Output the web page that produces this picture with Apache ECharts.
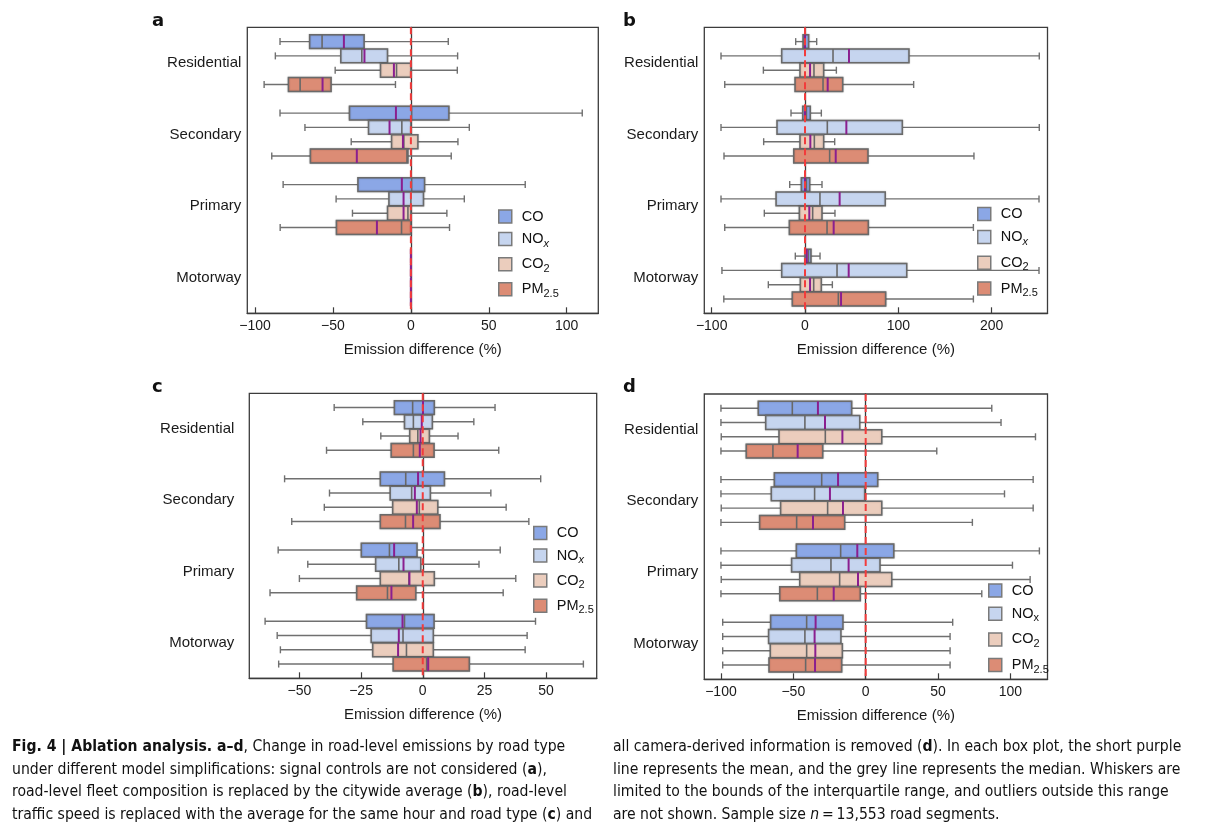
<!DOCTYPE html>
<html>
<head>
<meta charset="utf-8">
<script src="https://cdn.jsdelivr.net/npm/echarts@6/dist/echarts.min.js"></script>
<style>
html,body{margin:0;padding:0;background:#fff;width:1225px;height:829px;overflow:hidden;}
#chart{position:absolute;left:0;top:0;width:1225px;height:829px;}
.cap{position:absolute;font-family:"Liberation Sans Narrow","DejaVu Sans Condensed",sans-serif;font-size:15.6px;line-height:22.6px;color:#111;white-space:nowrap;}
</style>
</head>
<body>
<div id="chart"></div>
<div class="cap" style="left:12px;top:735px">
<b>Fig. 4 | Ablation analysis. a–d</b>, Change in road-level emissions by road type<br>
under different model simplifications: signal controls are not considered (<b>a</b>),<br>
road-level fleet composition is replaced by the citywide average (<b>b</b>), road-level<br>
traffic speed is replaced with the average for the same hour and road type (<b>c</b>) and
</div>
<div class="cap" style="left:613px;top:735px">
all camera-derived information is removed (<b>d</b>). In each box plot, the short purple<br>
line represents the mean, and the grey line represents the median. Whiskers are<br>
limited to the bounds of the interquartile range, and outliers outside this range<br>
are not shown. Sample size <i>n</i>&#8201;=&#8201;13,553 road segments.
</div>
<script>
// ---------------- DATA ----------------
const roadTypes = ['Residential', 'Secondary', 'Primary', 'Motorway'];
const pollutants = ['CO', 'NOx', 'CO2', 'PM2.5'];
const referenceValue = 0;
// each row (one road type): [lower whisker, Q1, median, Q3, upper whisker, mean]
// panel a: signal controls not considered
const a_CO   = [[-84, -65, -57, -30, 24, -43], [-84, -39.4, 0.5, 24.4, 110, -9.6], [-82, -34, 0.5, 8.8, 73.4, -5.8], [0, 0, 0, 0, 0, 0]];
const a_NOx  = [[-87, -45, -31.5, -15, 30, -29.8], [-68, -27.2, -5.8, 0, 37.5, -13.7], [-48, -14.1, 0, 8.1, 34.3, -4.7], [0, 0, 0, 0, 0, 0]];
const a_CO2  = [[-48.6, -19.5, -9.2, 0, 29.8, -10.9], [-38.3, -12.4, -4.5, 4.5, 30.2, -5.1], [-37.5, -15, -1.9, 0, 23.1, -4.7], [0, 0, 0, 0, 0, 0]];
const a_PM25 = [[-94.2, -78.6, -71.1, -51.2, -9.9, -56.7], [-89.3, -64.5, -2.5, -1.9, 25.9, -34.7], [-83.9, -47.8, -6, 0, 24.8, -21.8], [0, 0, 0, 0, 0, 0]];
// panel b: fleet composition replaced by citywide average
const b_CO   = [[-10, -2.1, -0.7, 3.9, 12.5, 0], [-15, -2.5, 1.5, 5.7, 17.5, 0], [-16.4, -3.9, 1.5, 5, 18.2, 0], [-10.4, 0, 3.5, 6.4, 16.1, 1.8]];
const b_NOx  = [[-90, -25, 30, 111.4, 251, 47.1], [-90, -30, 23.9, 104.3, 251, 44.3], [-90, -31, 16, 86, 250.7, 37.1], [-89, -25, 34.3, 109, 250.7, 46.8]];
const b_CO2  = [[-44.6, -5.4, 9.6, 20, 33.6, 5.4], [-44.3, -5.4, 10, 20, 31.8, 5.7], [-43.6, -6, 8.2, 18.2, 32.1, 4.6], [-39.3, -5, 9.3, 17.5, 29.3, 5.4]];
const b_PM25 = [[-86, -10.7, 19.3, 40.4, 116.4, 24.3], [-86.8, -12.1, 26.4, 67.5, 181, 32.9], [-86, -16.8, 23.6, 67.9, 180.4, 30.7], [-87, -13.6, 35.7, 86.4, 180.4, 38.6]];
// panel c: traffic speed replaced by hour/road-type average
const c_CO   = [[-35.9, -11.5, -4.1, 4.7, 29.3, 0.1], [-56, -17.2, -6.9, 8.8, 47.8, -1.9], [-58.6, -24.9, -13.5, -2.3, 31.4, -11.6], [-63.9, -22.8, -7.4, 4.6, 45.7, -8.2]];
const c_NOx  = [[-24.3, -7.4, -3.8, 3.9, 20.7, -0.4], [-37.8, -13.2, -4.5, 3.1, 27.6, -3.2], [-46.6, -19.1, -9.7, -0.8, 22.8, -7.8], [-59, -20.9, -8, 4.3, 42.3, -9.7]];
const c_CO2  = [[-17, -5.3, -2, 2.7, 14.3, -0.9], [-39.9, -12.2, -1.4, 6.1, 33.8, -2.4], [-50, -17.2, -5.6, 4.7, 37.7, -5.4], [-57.7, -20.3, -6.6, 4.3, 41.5, -10]];
const c_PM25 = [[-39, -12.8, -3.8, 4.6, 30.8, -1.2], [-53.1, -17.2, -7, 7, 43, -3.9], [-61.9, -26.8, -14.3, -2.8, 32.6, -12.7], [-58.4, -12, 1.6, 18.9, 65.1, 2.2]];
// panel d: all camera-derived information removed
const d_CO   = [[-100, -74.2, -50.7, -9.7, 87.1, -33], [-100, -63.1, -30.4, 8.3, 115.7, -19.1], [-100, -47.9, -17.3, 19.4, 120, -5.8], [-98.8, -65.7, -40.8, -15.7, 60.1, -34.6]];
const d_NOx  = [[-100, -69.1, -42, -4.1, 93.5, -28.1], [-100, -65.2, -35.3, -0.7, 95.9, -24.7], [-100, -51.2, -24, 9.9, 101.4, -11.8], [-98.8, -67.1, -42, -17.1, 58.3, -35.3]];
const d_CO2  = [[-99.8, -59.9, -27.9, 11.1, 117.3, -16.1], [-99.8, -58.8, -26.3, 11.1, 115.7, -15.7], [-99.8, -45.6, -18, 18, 113.6, -5.3], [-98.8, -65.9, -40.8, -16.1, 58.3, -34.8]];
const d_PM25 = [[-100, -82.5, -64.1, -29.7, 49.1, -47], [-100, -73.3, -47.7, -14.5, 73.7, -36.4], [-100, -59.4, -33.4, -3.7, 80.2, -22.1], [-98.8, -66.8, -41.5, -16.6, 58.3, -35]];
// x-axis tick labels
const a_ticks = [-100, -50, 0, 50, 100];
const b_ticks = [-100, 0, 100, 200];
const c_ticks = [-50, -25, 0, 25, 50];
const d_ticks = [-100, -50, 0, 50, 100];

// ---------------- STYLE / LAYOUT ----------------
const fills = ['#8ba7e6', '#c6d5ef', '#ebcdbd', '#dc8c75'];
const FONT = '"Liberation Sans", Arial, sans-serif';
const panels = [
  { key: 'a', data: [a_CO, a_NOx, a_CO2, a_PM25], ticks: a_ticks, range: [-105, 120.3],
    grid: { left: 247.3, top: 27.3, width: 351, height: 286 }, labelMargin: 6, yTicks: false,
    legend: { left: 498, top: 209, gap: 7.6 }, italicX: true, tag: [152, 12] },
  { key: 'b', data: [b_CO, b_NOx, b_CO2, b_PM25], ticks: b_ticks, range: [-107.9, 259.8],
    grid: { left: 704.3, top: 27.3, width: 343.2, height: 286 }, labelMargin: 6, yTicks: true,
    legend: { left: 977, top: 206.4, gap: 8.2 }, italicX: true, tag: [623, 12] },
  { key: 'c', data: [c_CO, c_NOx, c_CO2, c_PM25], ticks: c_ticks, range: [-70.3, 70.5],
    grid: { left: 249.3, top: 393.3, width: 347.4, height: 285 }, labelMargin: 15, yTicks: false,
    legend: { left: 533, top: 525.4, gap: 7.6 }, italicX: true, tag: [152, 378] },
  { key: 'd', data: [d_CO, d_NOx, d_CO2, d_PM25], ticks: d_ticks, range: [-111.5, 125.6],
    grid: { left: 704.3, top: 394, width: 343.2, height: 285.3 }, labelMargin: 6, yTicks: false,
    legend: { left: 988, top: 583, gap: 8.2 }, italicX: false, tag: [623, 378] }
];

function boxRenderer(k) {
  return function (params, api) {
    const cat = api.value(0);
    const cs = params.coordSys;
    const band = cs.height / roadTypes.length;
    const yc = api.coord([0, cat])[1] + (k - 1.5) * band * 0.2;
    const h = band * 0.2 - 0.4;
    const X = v => api.coord([v, cat])[0];
    const wl = X(api.value(1)), q1 = X(api.value(2)), md = X(api.value(3)),
          q3 = X(api.value(4)), wr = X(api.value(5)), mn = X(api.value(6));
    const wStyle = { stroke: '#707070', lineWidth: 1.4, fill: null };
    const cap = 3.5;
    return {
      type: 'group',
      children: [
        { type: 'line', shape: { x1: wl, y1: yc, x2: wr, y2: yc }, style: wStyle },
        { type: 'line', shape: { x1: wl, y1: yc - cap, x2: wl, y2: yc + cap }, style: wStyle },
        { type: 'line', shape: { x1: wr, y1: yc - cap, x2: wr, y2: yc + cap }, style: wStyle },
        { type: 'rect', shape: { x: q1, y: yc - h / 2, width: q3 - q1, height: h },
          style: { fill: fills[k], stroke: '#6a6a6a', lineWidth: 1.5, shadowBlur: 1.5, shadowColor: 'rgba(0,0,0,0.3)' } },
        { type: 'line', shape: { x1: md, y1: yc - h / 2, x2: md, y2: yc + h / 2 }, style: { stroke: '#686868', lineWidth: 1.6 } },
        { type: 'line', shape: { x1: mn, y1: yc - h / 2, x2: mn, y2: yc + h / 2 }, style: { stroke: '#8a1f8f', lineWidth: 2 } }
      ]
    };
  };
}

function refRenderer(params, api) {
  const cs = params.coordSys;
  const x = api.coord([api.value(0), 0])[0];
  return { type: 'line', shape: { x1: x, y1: cs.y, x2: x, y2: cs.y + cs.height },
           style: { stroke: '#f23c3c', lineWidth: 2, lineDash: [7, 4] } };
}

function legendLabel(name, italicX) {
  if (name === 'NOx') return italicX ? '{m|NO}{i|x}' : '{m|NO}{s|x}';
  if (name === 'CO2') return '{m|CO}{s|2}';
  if (name === 'PM2.5') return '{m|PM}{s|2.5}';
  return '{m|' + name + '}';
}

const option = {
  animation: false,
  backgroundColor: '#fff',
  grid: [], xAxis: [], yAxis: [], series: [], legend: [], graphic: []
};

panels.forEach((p, gi) => {
  option.grid.push(Object.assign({ show: true, borderColor: '#3c3c3c', borderWidth: 1.3, backgroundColor: 'transparent' }, p.grid));
  option.xAxis.push({
    type: 'value', gridIndex: gi, min: p.range[0], max: p.range[1],
    name: 'Emission difference (%)', nameLocation: 'middle', nameGap: 29,
    nameTextStyle: { fontFamily: FONT, fontSize: 15, color: '#1a1a1a' },
    axisLine: { show: true, lineStyle: { color: '#3c3c3c', width: 1.3 } },
    axisTick: { show: true, inside: true, length: 6, customValues: p.ticks, lineStyle: { color: '#3c3c3c', width: 1.2 } },
    axisLabel: { customValues: p.ticks, margin: 6, fontFamily: FONT, fontSize: 14, color: '#1a1a1a',
                 formatter: v => String(v).replace('-', '\u2212') },
    splitLine: { show: false }
  });
  option.yAxis.push({
    type: 'category', gridIndex: gi, data: roadTypes, inverse: true,
    axisLine: { show: true, lineStyle: { color: '#3c3c3c', width: 1.3 } },
    axisTick: { show: p.yTicks, inside: true, alignWithLabel: true, length: 6, lineStyle: { color: '#3c3c3c', width: 1.2 } },
    axisLabel: { margin: p.labelMargin, fontFamily: FONT, fontSize: 15, color: '#1a1a1a' },
    splitLine: { show: false }
  });
  p.data.forEach((rows, k) => {
    option.series.push({
      type: 'custom', name: pollutants[k], xAxisIndex: gi, yAxisIndex: gi, z: 2,
      itemStyle: { color: fills[k], borderColor: '#777', borderWidth: 1.5 },
      renderItem: boxRenderer(k),
      encode: { x: [1, 2, 3, 4, 5, 6], y: 0 },
      data: rows.map((r, i) => [i].concat(r))
    });
  });
  option.series.push({
    type: 'custom', name: 'ref-' + p.key, xAxisIndex: gi, yAxisIndex: gi, z: 5, silent: true,
    renderItem: refRenderer, encode: { x: 0, y: 1 }, data: [[referenceValue, 0]]
  });
  option.legend.push({
    left: p.legend.left, top: p.legend.top, orient: 'vertical', padding: 0,
    itemWidth: 13, itemHeight: 13, itemGap: p.legend.gap, selectedMode: false,
    data: pollutants.map((n, k) => ({ name: n, icon: 'rect',
      itemStyle: { color: fills[k], borderColor: '#7a7a7a', borderWidth: 1.5 } })),
    formatter: name => legendLabel(name, p.italicX),
    textStyle: {
      rich: {
        m: { fontFamily: FONT, fontSize: 14.5, lineHeight: 20, color: '#111', padding: [0, 0, 0, 5] },
        s: { fontFamily: FONT, fontSize: 11, lineHeight: 11, color: '#111', verticalAlign: 'bottom' },
        i: { fontFamily: FONT, fontSize: 11, lineHeight: 11, color: '#111', fontStyle: 'italic', verticalAlign: 'bottom' }
      }
    }
  });
  option.graphic.push({ type: 'text', left: p.tag[0], top: p.tag[1],
    style: { text: p.key, font: 'bold 18px "DejaVu Sans", sans-serif', fill: '#111' } });
});

const chart = echarts.init(document.getElementById('chart'), null, { renderer: 'canvas' });
chart.setOption(option);
</script>
</body>
</html>
